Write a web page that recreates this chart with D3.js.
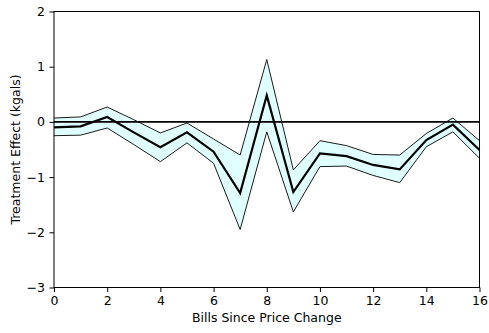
<!DOCTYPE html>
<html>
<head>
<meta charset="utf-8">
<script src="https://cdn.jsdelivr.net/npm/d3@7"></script>
<style>
  body { margin: 0; background: #fff; }
  text { font-family: "DejaVu Sans", sans-serif; }
</style>
</head>
<body>
<div id="chart"></div>
<script>
// bills since price change
const bills = [0, 1, 2, 3, 4, 5, 6, 7, 8, 9, 10, 11, 12, 13, 14, 15, 16];
// treatment effect estimate and its band
const effect = [-0.10, -0.08, 0.09, -0.19, -0.46, -0.19, -0.54, -1.29, 0.48, -1.27, -0.57, -0.62, -0.78, -0.86, -0.33, -0.05, -0.51];
const upper = [0.07, 0.09, 0.27, 0.04, -0.20, -0.02, -0.31, -0.60, 1.13, -0.87, -0.34, -0.43, -0.59, -0.60, -0.21, 0.07, -0.34];
const lower = [-0.25, -0.24, -0.11, -0.41, -0.72, -0.38, -0.75, -1.95, -0.18, -1.63, -0.81, -0.80, -0.97, -1.10, -0.45, -0.18, -0.66];
const xTicks = [0, 2, 4, 6, 8, 10, 12, 14, 16];
const yTicks = [-3, -2, -1, 0, 1, 2];

const W = 489, H = 333;
const m = {top: 11.5, right: 9.5, bottom: 45.5, left: 54};
const fs = 12.5;

const svg = d3.select('#chart').append('svg')
  .attr('width', W)
  .attr('height', H);

const x = d3.scaleLinear().domain([0, 16]).range([m.left, W - m.right]);
const y = d3.scaleLinear().domain([-3, 2]).range([H - m.bottom, m.top]);

const rows = bills.map((b, i) => ({b, mean: effect[i], hi: upper[i], lo: lower[i]}));

// band
svg.append('path')
  .datum(rows)
  .attr('fill', '#e0ffff')
  .attr('d', d3.area().x(d => x(d.b)).y0(d => y(d.lo)).y1(d => y(d.hi)));

const edge = (key) => d3.line().x(d => x(d.b)).y(d => y(d[key]));

svg.append('path').datum(rows)
  .attr('fill', 'none').attr('stroke', '#000').attr('stroke-width', 0.9)
  .attr('d', edge('hi'));
svg.append('path').datum(rows)
  .attr('fill', 'none').attr('stroke', '#000').attr('stroke-width', 0.9)
  .attr('d', edge('lo'));

// zero line
svg.append('line')
  .attr('x1', x(0)).attr('x2', x(16))
  .attr('y1', y(0)).attr('y2', y(0))
  .attr('stroke', '#000').attr('stroke-width', 1.6);

svg.append('path').datum(rows)
  .attr('fill', 'none').attr('stroke', '#000').attr('stroke-width', 2.2)
  .attr('d', edge('mean'));

// axes
const fmt = d => (d < 0 ? '\u2212' + Math.abs(d) : '' + d);

const gx = svg.append('g')
  .attr('transform', 'translate(0,' + (H - m.bottom) + ')')
  .call(d3.axisBottom(x).tickValues(xTicks).tickFormat(fmt).tickSize(4.5).tickPadding(4));
const gy = svg.append('g')
  .attr('transform', 'translate(' + m.left + ',0)')
  .call(d3.axisLeft(y).tickValues(yTicks).tickFormat(fmt).tickSize(4.5).tickPadding(4.5));

[gx, gy].forEach(g => {
  g.select('.domain').remove();
  g.selectAll('line').attr('stroke', '#000').attr('stroke-width', 1);
  g.selectAll('text').attr('font-size', fs).attr('fill', '#000')
    .style('font-family', '"DejaVu Sans", sans-serif');
});

// frame
svg.append('rect')
  .attr('x', m.left).attr('y', m.top)
  .attr('width', W - m.right - m.left).attr('height', H - m.bottom - m.top)
  .attr('fill', 'none').attr('stroke', '#000').attr('stroke-width', 1);

svg.append('text')
  .attr('x', (m.left + W - m.right) / 2).attr('y', 322)
  .attr('text-anchor', 'middle').attr('font-size', fs)
  .text('Bills Since Price Change');

svg.append('text')
  .attr('transform', 'translate(20,' + ((m.top + H - m.bottom) / 2) + ') rotate(-90)')
  .attr('text-anchor', 'middle').attr('font-size', fs)
  .text('Treatment Effect (kgals)');
</script>
</body>
</html>
